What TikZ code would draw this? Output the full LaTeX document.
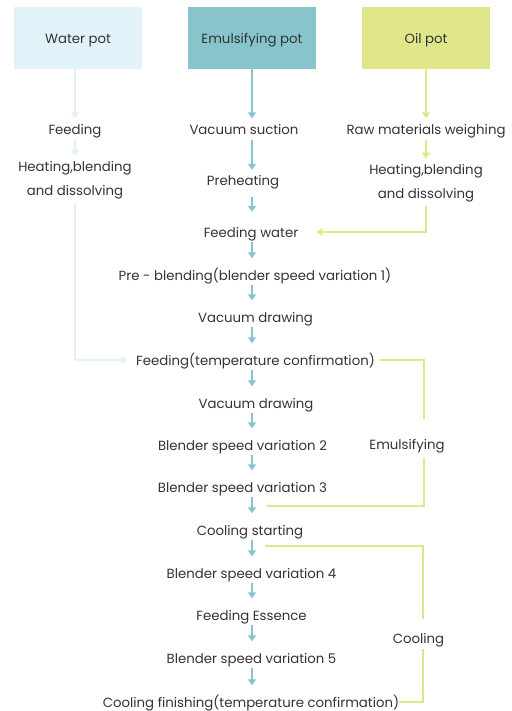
\documentclass[tikz,border=0pt]{standalone}
\usepackage{fontspec}
\setmainfont{Poppins}
\usetikzlibrary{arrows.meta}
\definecolor{wblue}{HTML}{E1F2F8}
\definecolor{teal}{HTML}{88C4CC}
\definecolor{ygreen}{HTML}{DFE78A}
\definecolor{txt}{HTML}{333333}
\tikzset{
  potbox/.style={minimum width=128pt,minimum height=62pt,inner sep=0pt,text height=12.5pt,text depth=0.5pt,text=txt,font=\fontsize{13.3}{15}\selectfont},
  stepnode/.style={inner sep=0pt,text height=11.5pt,text depth=1.5pt,text=txt,font=\fontsize{13.3}{15}\selectfont},
  twoline/.style={inner sep=0pt,align=center,text=txt,font=\fontsize{13.3}{23.5}\selectfont},
  tealarrow/.style={draw=teal,line width=2.5pt,-{Triangle[width=8pt,length=6pt]}},
  bluearrow/.style={draw=wblue,line width=2pt,-{Triangle[width=8pt,length=6pt]}},
  yarrow/.style={draw=ygreen,line width=2pt,-{Triangle[width=8pt,length=6pt]}},
  yline/.style={draw=ygreen,line width=2pt},
}
\begin{document}
\begin{tikzpicture}[x=1pt,y=-1pt]
\useasboundingbox (0,0) rectangle (511,711);
% pots
\node[potbox,fill=wblue] (wpot) at (78,38) {Water pot};
\node[potbox,fill=teal] (epot) at (252,38) {Emulsifying pot};
\node[potbox,fill=ygreen] (opot) at (426,38) {Oil pot};
% water column
\node[stepnode] (wfeed) at (75,130) {Feeding};
\node[twoline] (wheat) at (75,180) {Heating,blending\\and dissolving};
% oil column
\node[stepnode] (oraw) at (426,130) {Raw materials weighing};
\node[twoline] (oheat) at (426,183) {Heating,blending\\and dissolving};
% emulsifying column
\node[stepnode] (vs) at (244,130) {Vacuum suction};
\node[stepnode] (ph) at (243,181) {Preheating};
\node[stepnode] (fw) at (251,232) {Feeding water};
\node[stepnode] (pb) at (255,275) {Pre - blending(blender speed variation 1)};
\node[stepnode] (vd1) at (255.5,317) {Vacuum drawing};
\node[stepnode] (fc) at (255.5,360) {Feeding(temperature confirmation)};
\node[stepnode] (vd2) at (256,403) {Vacuum drawing};
\node[stepnode] (b2) at (242.5,445) {Blender speed variation 2};
\node[stepnode] (b3) at (242.5,487) {Blender speed variation 3};
\node[stepnode] (cs) at (250,530) {Cooling starting};
\node[stepnode] (b4) at (251.5,573) {Blender speed variation 4};
\node[stepnode] (fe) at (251.5,615) {Feeding Essence};
\node[stepnode] (b5) at (251.5,658) {Blender speed variation 5};
\node[stepnode] (cf) at (251,702) {Cooling finishing(temperature confirmation)};
% side labels
\node[stepnode] (emul) at (407,444) {Emulsifying};
\node[stepnode] (cool) at (418.5,638) {Cooling};
\coordinate (eend) at (267,506);
\coordinate (cstart) at (265,546);
% arrows from pots
\draw[bluearrow,shorten >=5pt] (wpot.south -| wfeed.south) -- (wfeed.north);
\draw[tealarrow,shorten >=5pt] (epot.south) -- (epot.south |- vs.north);
\draw[yarrow,shorten >=5pt] (opot.south) -- (oraw.north);
% water and oil columns
\draw[bluearrow,shorten <=2.5pt,shorten >=5.5pt] (wfeed.south) -- (wfeed.south |- wheat.north);
\draw[yarrow,shorten <=3.5pt,shorten >=5.5pt] (oraw.south) -- (oraw.south |- oheat.north);
\draw[bluearrow,shorten <=4.5pt,shorten >=9pt] (wheat.south) |- (fc.west);
\draw[yarrow,shorten <=4.5pt,shorten >=18pt] (oheat.south) |- (fw.east);
% emulsifying column arrows
\draw[tealarrow,shorten <=3.5pt,shorten >=4.5pt] (vs.south -| epot.south) -- (ph.north -| epot.south);
\draw[tealarrow,shorten <=9.5pt,shorten >=13.5pt] (ph.south -| epot.south) -- (fw.north -| epot.south);
\foreach \a/\b in {fw/pb,pb/vd1,vd1/fc,fc/vd2,vd2/b2,b2/b3,b3/cs,cs/b4,b4/fe,fe/b5,b5/cf}
  \draw[tealarrow,shorten <=3.5pt,shorten >=10pt] (\a.south -| epot.south) -- (\b.north -| epot.south);
% emulsifying loop
\draw[yline,shorten <=4pt,shorten >=18.5pt] (fc.east) -| ([xshift=17pt]emul.north);
\draw[yline,shorten <=7.5pt] ([xshift=17pt]emul.south) |- (eend);
% cooling loop
\draw[yline,shorten >=12.5pt] (cstart) -| ([xshift=4.5pt]cool.north);
\draw[yline,shorten <=4.5pt] ([xshift=4.5pt]cool.south) |- (cf.east);
\end{tikzpicture}
\end{document}
